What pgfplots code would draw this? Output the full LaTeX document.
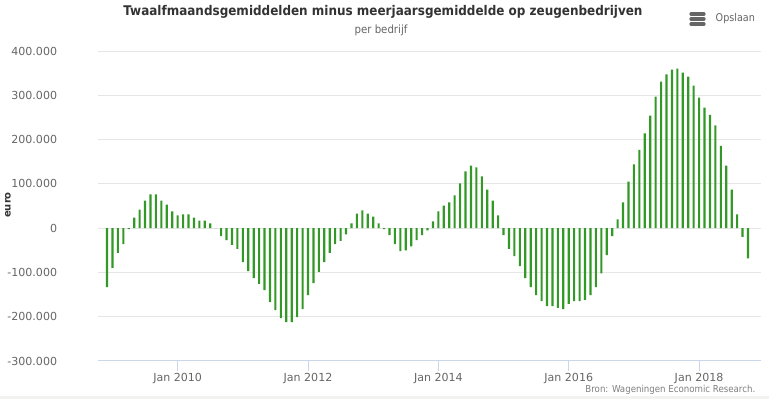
\documentclass[border=0pt]{standalone}
\usepackage{pgfplots}
\pgfplotsset{compat=1.18}
\usepackage{fontspec}
\setmainfont{DejaVu Sans}
\newfontfamily\condfont{DejaVu Sans Condensed}
\definecolor{barc}{HTML}{339926}
\definecolor{gridc}{HTML}{E6E6E6}
\definecolor{axc}{HTML}{CCD6EB}
\definecolor{labc}{HTML}{666666}
\definecolor{titc}{HTML}{333333}
\definecolor{bandc}{HTML}{F2F2EE}
\pgfplotstableread{
idx val
0 -133000
1 -90000
2 -56000
3 -36000
4 -2000
5 24000
6 42000
7 62000
8 76000
9 76000
10 62000
11 53000
12 38000
13 29000
14 31000
15 31000
16 24000
17 17000
18 17000
19 11000
20 0
21 -18000
22 -27000
23 -38000
24 -47000
25 -77000
26 -97000
27 -113000
28 -126000
29 -140000
30 -167000
31 -185000
32 -203000
33 -212000
34 -212000
35 -201000
36 -183000
37 -151000
38 -124000
39 -99000
40 -77000
41 -56000
42 -36000
43 -29000
44 -14000
45 11000
46 33000
47 40000
48 33000
49 26000
50 11000
51 -2000
52 -16000
53 -36000
54 -52000
55 -50000
56 -41000
57 -27000
58 -16000
59 -5000
60 15000
61 38000
62 51000
63 58000
64 74000
65 101000
66 128000
67 141000
68 137000
69 117000
70 87000
71 62000
72 29000
73 -16000
74 -47000
75 -63000
76 -86000
77 -113000
78 -133000
79 -151000
80 -165000
81 -176000
82 -176000
83 -180000
84 -183000
85 -171000
86 -165000
87 -165000
88 -162000
89 -151000
90 -133000
91 -102000
92 -61000
93 -18000
94 20000
95 58000
96 105000
97 144000
98 177000
99 214000
100 254000
101 297000
102 331000
103 347000
104 358000
105 360000
106 351000
107 342000
108 322000
109 295000
110 272000
111 256000
112 232000
113 186000
114 141000
115 87000
116 31000
117 -20000
118 -68000
}\datatable
\begin{document}
\begin{tikzpicture}[x=0.75pt,y=0.75pt]
\fill[white] (0,0) rectangle (769,399);
\fill[bandc] (0,0) rectangle (769,3);
\begin{axis}[
  at={(73.875pt,28.5pt)}, anchor=south west,
  width=496.9pt, height=232.5pt, scale only axis,
  xmin=-1.57, xmax=120.4,
  ymin=-300000, ymax=400000,
  ytick={-300000,-200000,-100000,0,100000,200000,300000,400000},
  xtick={13,37,61,85,109},
  xticklabels={Jan 2010,Jan 2012,Jan 2014,Jan 2016,Jan 2018},
  scaled y ticks=false,
  /pgf/number format/.cd, fixed, precision=0, 1000 sep={.}, assume math mode=true,
  /pgfplots/.cd,
  axis x line*=bottom, axis y line*=left,
  x axis line style={draw=axc, line width=0.75pt},
  y axis line style={draw=none},
  ytick style={draw=none},
  xtick style={draw=axc, line width=0.75pt},
  tick align=outside, major tick length=7.5pt,
  ymajorgrids, grid style={draw=gridc, line width=0.75pt},
  ticklabel style={font=\fontsize{8.3pt}{10pt}\selectfont, text=labc},
  xticklabel style={yshift=2pt},
  yticklabel style={anchor=east, xshift=-20pt},
  clip=false,
]
\addplot[ybar, bar width=1.6pt, fill=barc, draw=none] table[x=idx, y=val] {\datatable};
\end{axis}
\node[font=\condfont\bfseries\fontsize{10pt}{12pt}\selectfont, text=titc] at (383,387) {Twaalfmaandsgemiddelden minus meerjaarsgemiddelde op zeugenbedrijven};
\node[font=\condfont\fontsize{8.5pt}{10pt}\selectfont, text=labc] at (381,369) {per bedrijf};
\node[font=\bfseries\fontsize{7.5pt}{9pt}\selectfont, text=titc, rotate=90] at (8,194) {euro};
\node[font=\condfont\fontsize{8pt}{10pt}\selectfont, text=labc, anchor=west] at (711,380) {Opslaan};
\foreach \yy in {375,380,385} {\draw[labc, line width=2.4pt, line cap=round] (691,\yy) -- (704,\yy);}
\node[font=\condfont\fontsize{7.2pt}{8pt}\selectfont, text=gray, anchor=east] at (760,9) {Bron: Wageningen Economic Research.};
\end{tikzpicture}
\end{document}
